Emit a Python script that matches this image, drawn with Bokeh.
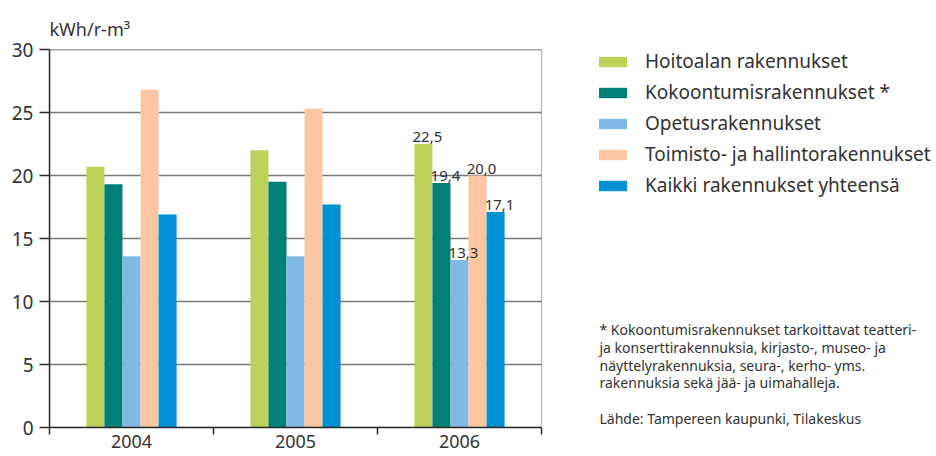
from bokeh.plotting import figure
from bokeh.models import (ColumnDataSource, Range1d, FixedTicker, Legend, LegendItem,
                          Label, LabelSet, BoxAnnotation)
from bokeh.core.properties import value
from bokeh.transform import dodge
from bokeh.embed import file_html
from bokeh.resources import INLINE

years = ["2004", "2005", "2006"]
series_names = ["Hoitoalan rakennukset", "Kokoontumisrakennukset *", "Opetusrakennukset",
                "Toimisto- ja hallintorakennukset", "Kaikki rakennukset yhteensä"]
hoitoala = [20.7, 22.0, 22.5]
kokoontumis = [19.3, 19.5, 19.4]
opetus = [13.6, 13.6, 13.3]
toimisto = [26.8, 25.3, 20.0]
kaikki = [16.9, 17.7, 17.1]
colors = ["#bed25a", "#008076", "#80b9e4", "#fbc6a1", "#0090d4"]
y_ticks = [0, 5, 10, 15, 20, 25, 30]
y_max = 30
unit_label = "kWh/r-m³"
footnote_lines = ["* Kokoontumisrakennukset tarkoittavat teatteri-",
                  "ja konserttirakennuksia, kirjasto-, museo- ja",
                  "näyttelyrakennuksia, seura-, kerho- yms.",
                  "rakennuksia sekä jää- ja uimahalleja.",
                  "",
                  "Lähde: Tampereen kaupunki, Tilakeskus"]

FONT = "Noto Sans"
TXT = "#333333"
DARK = "#2a2a2a"

# layout (pixels)
LEFT = 49          # left border
TOP = 49           # top border
FRAME_W = 887      # frame spans to right edge; chart box is CHART_W of it
FRAME_H = 378
CHART_W = 492

n = len(years)
series = [hoitoala, kokoontumis, opetus, toimisto, kaikki]
centers = [i + 0.5 for i in range(n)]
data = {"x": centers}
for k, s in enumerate(series):
    data[f"s{k}"] = s
source = ColumnDataSource(data)

p = figure(frame_width=FRAME_W, frame_height=FRAME_H, min_border_left=LEFT,
           min_border_top=TOP, min_border_right=0, min_border_bottom=28,
           x_range=Range1d(0, n * FRAME_W / CHART_W), y_range=Range1d(0, y_max),
           output_backend="svg", toolbar_location=None, tools="", title=unit_label)
p.title.text_font = FONT
p.title.text_font_size = "18px"
p.title.text_font_style = "normal"
p.title.text_color = TXT
p.title.align = "left"
p.title.standoff = 17
p.background_fill_color = "white"
p.border_fill_color = "white"
p.outline_line_color = None
p.xgrid.grid_line_color = None
p.ygrid.grid_line_color = None

# horizontal grid lines limited to the chart box
grid_src = ColumnDataSource({"y": y_ticks[1:], "x0": [0] * (len(y_ticks) - 1),
                             "x1": [n] * (len(y_ticks) - 1)})
p.segment(x0="x0", x1="x1", y0="y", y1="y", source=grid_src,
          line_color="#7a7a7a", line_width=1.3)

bar_w = 0.11
offsets = [-0.22, -0.11, 0.0, 0.11, 0.22]
renderers = []
for k in range(len(series)):
    r = p.vbar(x=dodge("x", offsets[k], range=p.x_range), top=f"s{k}", width=bar_w,
               source=source, fill_color=colors[k], line_color=None)
    renderers.append(r)

# chart box outline
p.add_layout(BoxAnnotation(left=0, right=n, bottom=0, top=y_max, fill_alpha=0,
                           fill_color=None, line_color=DARK, line_width=1.5))

# value labels for 2006
last = n - 1
lab_src = ColumnDataSource({
    "x": [centers[last] + offsets[k] for k in range(len(series))],
    "y": [series[k][last] for k in range(len(series))],
    "t": [f"{series[k][last]:.1f}".replace(".", ",") for k in range(len(series))],
})
p.add_layout(LabelSet(x="x", y="y", text="t", source=lab_src, x_offset=4, y_offset=2,
                      text_align="center", text_baseline="bottom", text_font=value(FONT),
                      text_font_size=value("15px"), text_color=value(TXT)))

# axes
p.xaxis.bounds = (0, n)
p.xaxis.ticker = FixedTicker(ticks=centers, minor_ticks=list(range(n + 1)))
p.xaxis.major_label_overrides = {c: y for c, y in zip(centers, years)}
p.xaxis.major_tick_line_color = None
p.xaxis.major_tick_out = 0
p.xaxis.major_tick_in = 0
p.xaxis.minor_tick_out = 7
p.xaxis.minor_tick_in = 0
p.xaxis.minor_tick_line_color = DARK
p.xaxis.minor_tick_line_width = 1.5
p.xaxis.major_label_standoff = 0
p.xaxis.major_label_text_font = FONT
p.xaxis.major_label_text_font_size = "18px"
p.xaxis.major_label_text_color = TXT
p.xaxis.axis_line_color = DARK
p.xaxis.axis_line_width = 1.5

p.yaxis.ticker = FixedTicker(ticks=y_ticks)
p.yaxis.minor_tick_line_color = None
p.yaxis.major_tick_out = 10
p.yaxis.major_tick_in = 0
p.yaxis.major_tick_line_color = DARK
p.yaxis.major_tick_line_width = 1.5
p.yaxis.major_label_standoff = 6
p.yaxis.major_label_text_font = FONT
p.yaxis.major_label_text_font_size = "19px"
p.yaxis.major_label_text_color = TXT
p.yaxis.axis_line_color = DARK
p.yaxis.axis_line_width = 1.5

# legend (inside the wide frame, right of the chart box)
legend = Legend(items=[LegendItem(label=nm, renderers=[r]) for nm, r in zip(series_names, renderers)],
                location=(546, 229), padding=0, margin=0,
                border_line_color=None, background_fill_alpha=0,
                glyph_width=35, glyph_height=13, label_standoff=15,
                label_text_font=FONT, label_text_font_size="19px", label_text_color=TXT,
                label_height=20, spacing=5)
p.add_layout(legend, "center")

# footnote
for i, line in enumerate(footnote_lines):
    if line:
        p.add_layout(Label(x=550, y=(TOP + FRAME_H) - (329 + i * 17.8),
                           x_units="screen", y_units="screen", text=line,
                           text_font=FONT, text_font_size="14px", text_color=TXT,
                           text_baseline="middle", text_align="left"))

open("out.html", "w").write(file_html(p, INLINE))
